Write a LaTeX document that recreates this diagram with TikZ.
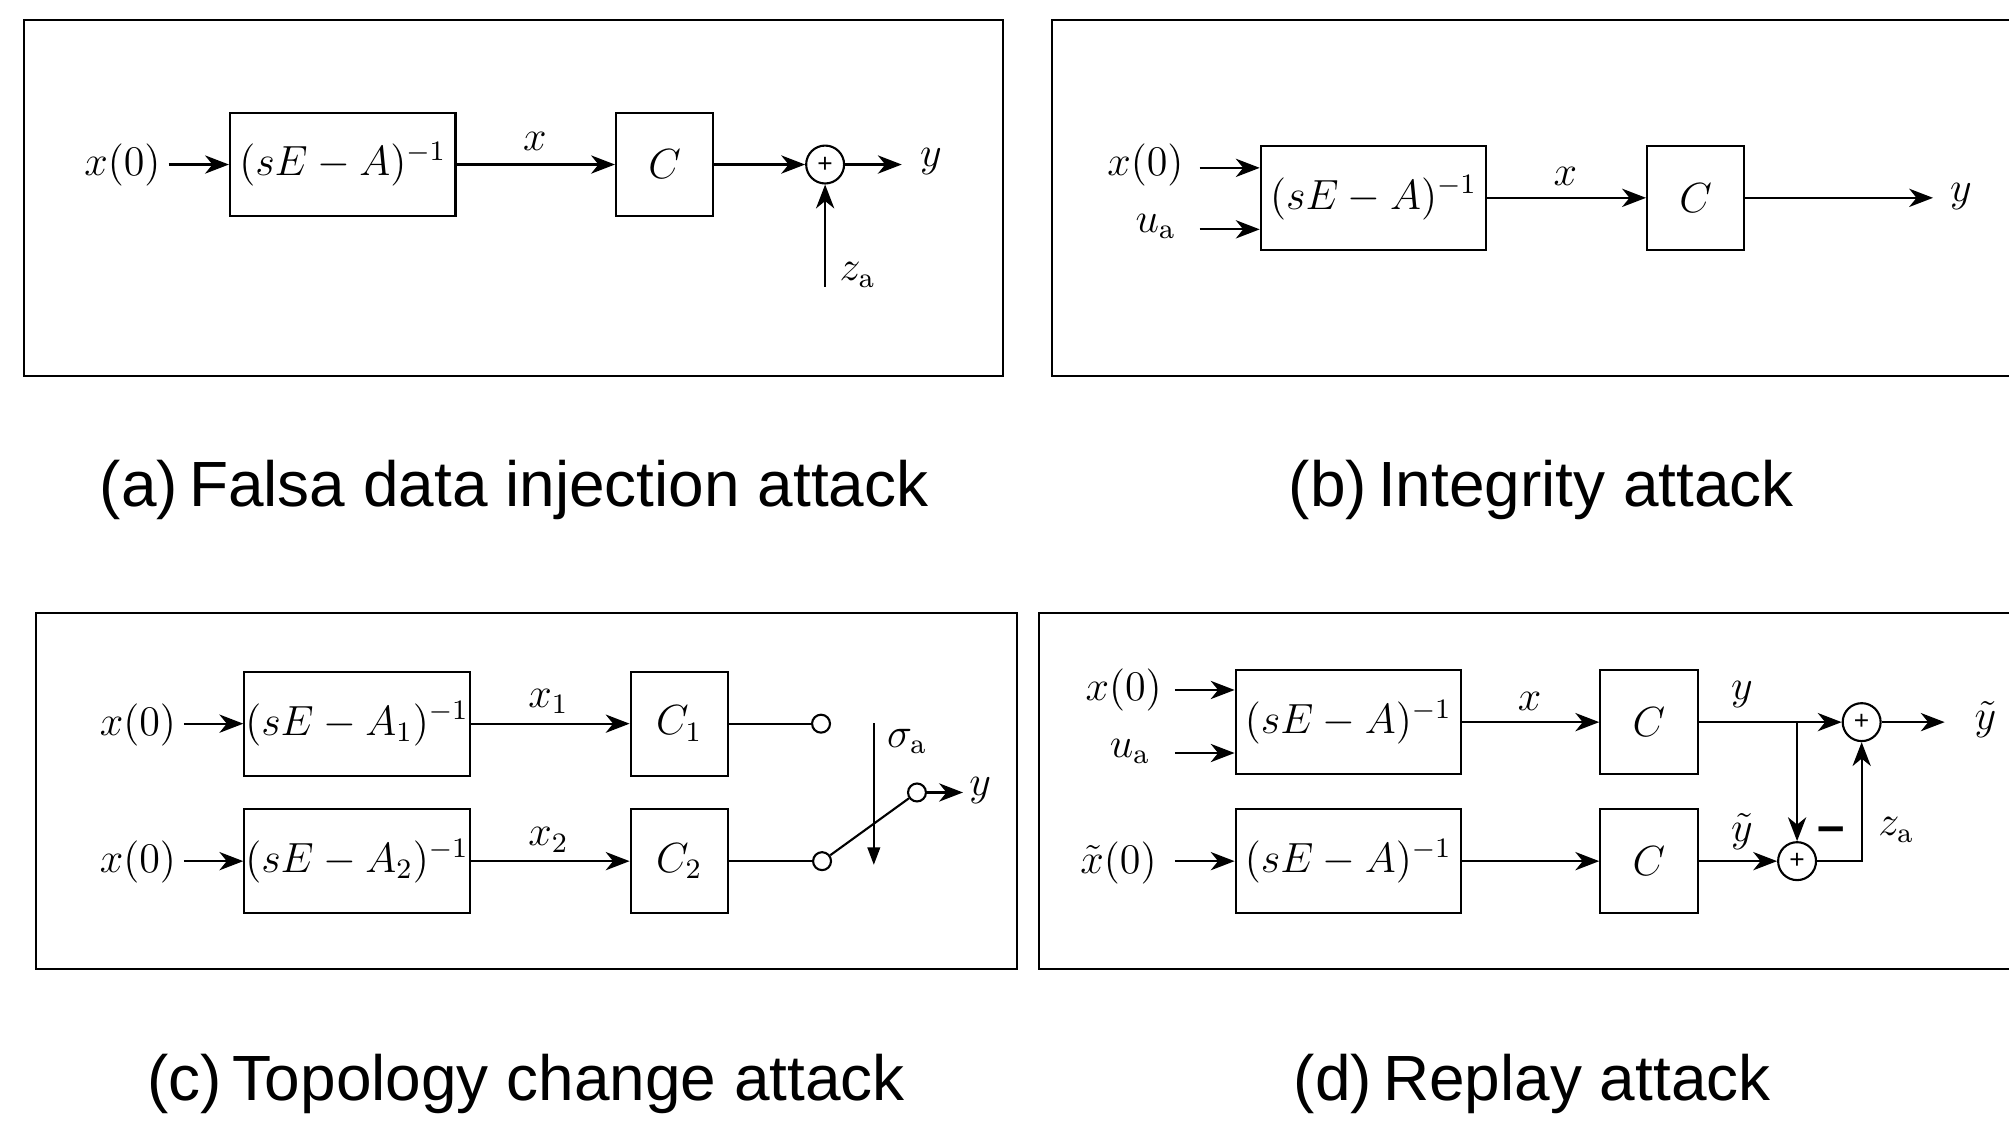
\documentclass[tikz,border=0pt]{standalone}
\usepackage{fontspec}
\usetikzlibrary{arrows.meta}
\newfontfamily\capfont{Liberation Sans}
\def\pxu{0.0128125cm}

\begin{document}
\begin{tikzpicture}[x=0.0128125cm, y=-0.0128125cm,
  line width=0.6pt,
  every node/.style={font=\fontsize{11.5}{13}\selectfont},
  blk/.style={draw, inner sep=0pt, minimum height=81*\pxu},
  wide/.style={blk, minimum width=176*\pxu},
  narrow/.style={blk, minimum width=76*\pxu},
  sumnode/.style={draw, circle, inner sep=0pt, minimum size=29.6*\pxu,
    font=\capfont\fontsize{7.5}{8}\selectfont},
  sw/.style={draw, circle, fill=white, inner sep=0pt, minimum size=14*\pxu},
  lab/.style={inner sep=0pt},
  arr/.style={-{Stealth[length=6.8pt,width=5.2pt,inset=2.1pt]}},
  tri/.style={-{Triangle[length=5pt,width=3.6pt]}},
  framebox/.style={draw},
  captext/.style={anchor=base west, inner sep=0pt, font=\capfont\fontsize{18.2}{21}\selectfont}
]
\clip (0,0) rectangle (1568,883.5);

% ---------- (a) false data injection ----------
\draw[framebox] (18.6,15.6) rectangle (782.8,293.2);
\node[wide]    (a1) at (267.5,128.4) {$(sE-A)^{-1}$};
\node[narrow]  (a2) at (518.8,128.4) {$C$};
\node[sumnode] (a3) at (644,128.4) {+};
\node[lab] (ax0) at (95.6,128.4) {$x(0)$};
\node[lab] (ax)  at (417.5,110.6) {$x$};
\node[lab] (ay)  at (726.6,126.2) {$y$};
\node[lab] (aza) at (669.4,214.6) {$z_{\mathrm{a}}$};
\coordinate (ain)  at (131.7,128.4);
\coordinate (aout) at (703.8,128.4);
\coordinate (azs)  at (644,223.8);
\draw[arr] (ain) -- (a1);
\draw[arr] (a1) -- (a2);
\draw[arr] (a2) -- (a3);
\draw[arr] (a3) -- (aout);
\draw[arr] (azs) -- (a3);

% ---------- (b) integrity ----------
\draw[framebox] (821.4,15.6) rectangle (1590,293.2);
\node[wide]   (b1) at (1072,154.4) {$(sE-A)^{-1}$};
\node[narrow] (b2) at (1323.5,154.4) {$C$};
\node[lab] (bx0) at (894,128.8) {$x(0)$};
\node[lab] (bua) at (902,177) {$u_{\mathrm{a}}$};
\node[lab] (bx)  at (1221.8,137.9) {$x$};
\node[lab] (by)  at (1530.4,153.5) {$y$};
\coordinate (bin1) at (936.2,131);
\coordinate (bin2) at (936.2,179);
\coordinate (bout) at (1508.7,154.4);
\draw[arr] (bin1) -- (bin1 -| b1.west);
\draw[arr] (bin2) -- (bin2 -| b1.west);
\draw[arr] (b1) -- (b2);
\draw[arr] (b2) -- (bout);

% ---------- (c) topology change ----------
\draw[framebox] (28.2,478.7) rectangle (793.8,756.3);
\node[wide]   (c1) at (278.7,564.8) {$(sE-A_1)^{-1}$};
\node[narrow] (c2) at (530.2,564.8) {$C_1$};
\node[wide]   (c3) at (278.7,672.1) {$(sE-A_2)^{-1}$};
\node[narrow] (c4) at (530.2,672.1) {$C_2$};
\node[lab] (cx0a) at (107.7,566) {$x(0)$};
\node[lab] (cx0b) at (107.7,672.5) {$x(0)$};
\node[lab] (cx1)  at (428,547.6) {$x_1$};
\node[lab] (cx2)  at (428,655.6) {$x_2$};
\node[lab] (cy)   at (765,616.7) {$y$};
\node[lab] (csig) at (708,579) {$\sigma_{\mathrm{a}}$};
\node[sw] (s1) at (640.8,564.8) {};
\node[sw] (s2) at (641.6,672.1) {};
\node[sw] (s3) at (715.7,618.5) {};
\coordinate (cin1) at (143.6,564.8);
\coordinate (cin2) at (143.6,672.1);
\coordinate (cout) at (751.6,618.5);
\coordinate (ctop) at (682,564.5);
\coordinate (cbot) at (682,675);
\draw[arr] (cin1) -- (c1);
\draw[arr] (cin2) -- (c3);
\draw[arr] (c1) -- (c2);
\draw[arr] (c3) -- (c4);
\draw (c2) -- (s1);
\draw (c4) -- (s2);
\draw (s2) -- (s3);
\draw[arr] (s3) -- (cout);
\draw[tri] (ctop) -- (cbot);

% ---------- (d) replay ----------
\draw[framebox] (811.2,478.7) rectangle (1590,756.3);
\node[wide]   (d1) at (1052.4,563.6) {$(sE-A)^{-1}$};
\node[narrow] (d2) at (1287,563.6) {$C$};
\node[wide]   (d3) at (1052.4,672.1) {$(sE-A)^{-1}$};
\node[narrow] (d4) at (1287,672.1) {$C$};
\node[sumnode] (du) at (1453,563.6) {+};
\node[sumnode] (dl) at (1402.6,672.1) {+};
\node[lab] (dx0)  at (877,538.5) {$x(0)$};
\node[lab] (dua)  at (882,586.7) {$u_{\mathrm{a}}$};
\node[lab] (dxt0) at (873,673.8) {$\tilde{x}(0)$};
\node[lab] (dx)   at (1193.8,547.6) {$x$};
\node[lab] (dy)   at (1359.5,542.4) {$y$};
\node[lab] (dyt)  at (1359.5,649) {$\tilde{y}$};
\node[lab] (dyo)  at (1549.5,562) {$\tilde{y}$};
\node[lab] (dza)  at (1480,647.8) {$z_{\mathrm{a}}$};
\node[lab, font=\capfont\bfseries\fontsize{14}{16}\selectfont] (dmin) at (1429.3,651.7) {\textendash};
\coordinate (din1) at (917,538.5);
\coordinate (din2) at (917,587.7);
\coordinate (din3) at (917,672.1);
\coordinate (dbr)  at (1402.6,563.6);
\coordinate (dout) at (1517.8,563.6);
\draw[arr] (din1) -- (din1 -| d1.west);
\draw[arr] (din2) -- (din2 -| d1.west);
\draw[arr] (din3) -- (d3);
\draw[arr] (d1) -- (d2);
\draw[arr] (d3) -- (d4);
\draw (d2) -- (dbr);
\draw[arr] (dbr) -- (du);
\draw[arr] (dbr) -- (dl);
\draw[arr] (d4) -- (dl);
\draw[arr] (dl) -| (du);
\draw[arr] (du) -- (dout);

% ---------- captions ----------
\node[captext] (capa) at (77,395) {(a)\hspace{3.2pt}Falsa data injection attack};
\node[captext] (capb) at (1005,395) {(b)\hspace{3.2pt}Integrity attack};
\node[captext] (capc) at (114,859) {(c)\hspace{3.2pt}Topology change attack};
\node[captext] (capd) at (1009,859) {(d)\hspace{3.2pt}Replay attack};
\end{tikzpicture}
\end{document}
